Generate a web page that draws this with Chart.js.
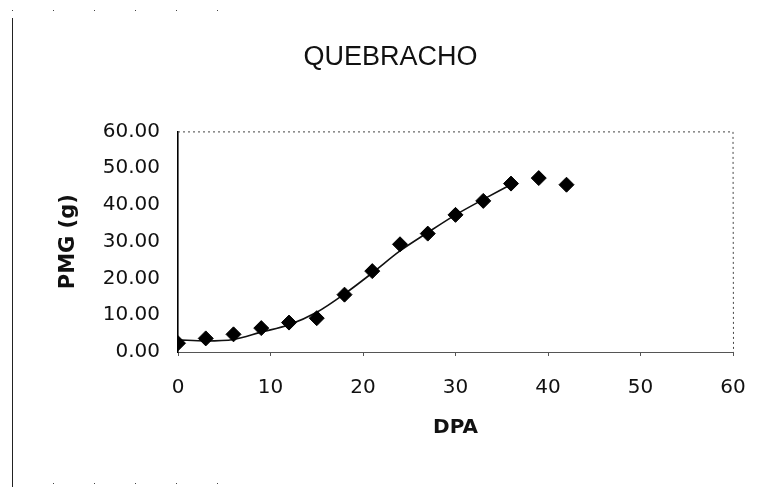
<!DOCTYPE html>
<html>
<head>
<meta charset="utf-8">
<title>QUEBRACHO</title>
<script src="https://cdn.jsdelivr.net/npm/chart.js@4/dist/chart.umd.min.js"></script>
<style>
  html, body { margin: 0; padding: 0; background: #fff; }
  #wrap { width: 760px; height: 487px; }
</style>
</head>
<body>
<div id="wrap"><canvas id="pmgChart" width="760" height="487"></canvas></div>
<script>
// days after anthesis and measured grain weight
const dpa = [0, 3, 6, 9, 12, 15, 18, 21, 24, 27, 30, 33, 36, 39, 42];
const pmg = [2.4, 3.7, 4.8, 6.5, 8.0, 9.2, 15.6, 22.0, 29.3, 32.2, 37.3, 41.1, 45.8, 47.3, 45.5];

// fitted curve, read at a few days
const fitDpa = [0, 3, 6, 9, 12, 15, 18, 21, 24, 27, 30, 33, 35.6];
const fitPmg = [3.3, 3.0, 3.4, 5.4, 7.4, 10.8, 15.8, 21.5, 27.5, 32.5, 37.3, 41.5, 45.0];

const xTicks = [0, 10, 20, 30, 40, 50, 60];
const yTicks = [0, 10, 20, 30, 40, 50, 60];

const FONT = "'Liberation Sans', Arial, sans-serif";
const WIDE = "'DejaVu Sans', sans-serif";

// dotted top/right edges of the plot frame and the outer chart edge
const framePlugin = {
  id: "frame",
  afterDraw(chart) {
    const { ctx, chartArea: a } = chart;
    ctx.save();
    ctx.strokeStyle = "#444";
    ctx.lineWidth = 1;
    ctx.setLineDash([2, 3]);
    ctx.beginPath();
    ctx.moveTo(a.left, a.top + 0.5);
    ctx.lineTo(a.right, a.top + 0.5);
    ctx.lineTo(a.right + 0.5, a.bottom);
    ctx.stroke();
    // outer border of the chart object
    ctx.setLineDash([1, 40]);
    ctx.beginPath();
    ctx.moveTo(12, 10.5);
    ctx.lineTo(250, 10.5);
    ctx.moveTo(12, 483.5);
    ctx.lineTo(250, 483.5);
    ctx.stroke();
    ctx.setLineDash([]);
    ctx.strokeStyle = "#222";
    ctx.beginPath();
    ctx.moveTo(12.5, 18);
    ctx.lineTo(12.5, 487);
    ctx.stroke();
    ctx.restore();
  }
};

new Chart(document.getElementById("pmgChart").getContext("2d"), {
  type: "scatter",
  data: {
    datasets: [
      {
        label: "PMG",
        data: dpa.map((d, i) => ({ x: d, y: pmg[i] })),
        pointStyle: "rectRot",
        pointRadius: 7.5,
        pointHoverRadius: 7.5,
        backgroundColor: "#000",
        borderColor: "#000",
        order: 1
      },
      {
        label: "ajuste",
        data: fitDpa.map((d, i) => ({ x: d, y: fitPmg[i] })),
        showLine: true,
        pointRadius: 0,
        borderColor: "#111",
        borderWidth: 1.6,
        cubicInterpolationMode: "monotone",
        order: 2
      }
    ]
  },
  options: {
    responsive: false,
    animation: false,
    layout: { padding: { left: 48, right: 27, top: 0, bottom: 47 } },
    plugins: {
      legend: { display: false },
      tooltip: { enabled: false },
      title: {
        display: true,
        text: "QUEBRACHO",
        color: "#111",
        font: { family: FONT, size: 27, weight: "normal" },
        padding: { top: 41, bottom: 58 }
      }
    },
    scales: {
      x: {
        type: "linear",
        min: 0,
        max: 60,
        afterBuildTicks: s => { s.ticks = xTicks.map(v => ({ value: v })); },
        afterFit: s => {
          s.height = 88;
          s.paddingLeft = 0;
          s.paddingRight = 0;
        },
        grid: { drawOnChartArea: false, drawTicks: true, tickLength: 4, color: "#555" },
        border: { color: "#555", dash: [2, 2], width: 1 },
        ticks: {
          color: "#111",
          padding: 20,
          font: { family: WIDE, size: 20 }
        },
        title: {
          display: true,
          text: "DPA",
          color: "#111",
          font: { family: WIDE, size: 20, weight: "bold" },
          padding: { top: 0, bottom: 0 }
        }
      },
      y: {
        type: "linear",
        min: 0,
        max: 60,
        afterBuildTicks: s => { s.ticks = yTicks.map(v => ({ value: v })); },
        afterFit: s => {
          s.width = 130;
          s.paddingTop = 0;
          s.paddingBottom = 0;
        },
        grid: { display: false, drawTicks: false },
        border: { color: "#000", width: 1.6 },
        ticks: {
          color: "#111",
          padding: 18,
          font: { family: WIDE, size: 20 },
          callback: v => v.toFixed(2)
        },
        title: {
          display: true,
          text: "PMG (g)",
          color: "#111",
          font: { family: WIDE, size: 21, weight: "bold" },
          padding: { top: 8, bottom: 0 }
        }
      }
    }
  },
  plugins: [framePlugin]
});
</script>
</body>
</html>
